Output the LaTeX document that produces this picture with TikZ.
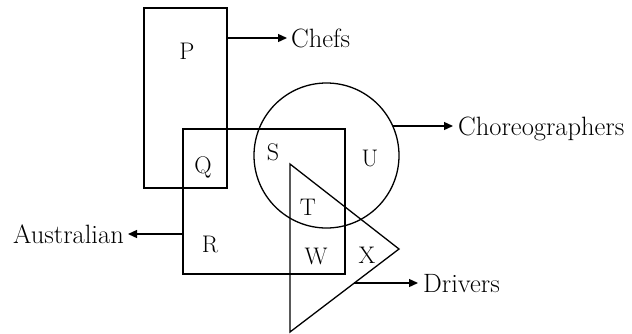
\documentclass[tikz,border=0pt]{standalone}
\usetikzlibrary{arrows.meta}
\begin{document}
\begin{tikzpicture}[x=1pt,y=-1pt,
  shapeline/.style={line width=1.3pt, black},
  arr/.style={line width=1.3pt, -{Triangle[length=9pt,width=8pt]}},
  lbl/.style={font=\fontsize{26.5}{30}\selectfont, inner sep=0pt, text depth=0pt},
  region/.style={font=\fontsize{24}{28}\selectfont, inner sep=0pt, text depth=0pt}]
\useasboundingbox (0,0) rectangle (632,333);
% sets
\draw[shapeline] (144,8) rectangle (227,188);
\draw[shapeline] (183,129) rectangle (345,274);
\draw[shapeline] (326.5,155.5) circle [radius=72.5];
\draw[shapeline] (290,164) -- (399,249) -- (290,332) -- cycle;
% region labels
\node[region] (P) at (187,51) {P};
\node[region] (Q) at (203,165) {Q};
\node[region] (R) at (210,244) {R};
\node[region] (S) at (273,152) {S};
\node[region] (U) at (370,158) {U};
\node[region] (T) at (308,207) {T};
\node[region] (W) at (316,256) {W};
\node[region] (X) at (367,255) {X};
% arrow start points
\coordinate (chefsStart) at (227,38);
\coordinate (choreoStart) at (392.7,126);
\coordinate (ausStart) at (183,234);
\coordinate (drivStart) at (354.3,283);
% outside labels
\node[lbl, anchor=west] (chefs) at (291,38) {Chefs};
\node[lbl, anchor=west] (choreo) at (458,126) {Choreographers};
\node[lbl, anchor=east] (aus) at (124,234) {Australian};
\node[lbl, anchor=west] (driv) at (423,283) {Drivers};
% connectors
\draw[arr] (chefsStart) -- ([xshift=-4pt]chefs.west);
\draw[arr] (choreoStart) -- ([xshift=-5pt]choreo.west);
\draw[arr] (ausStart) -- ([xshift=4pt]aus.east);
\draw[arr] (drivStart) -- ([xshift=-5pt]driv.west);
\end{tikzpicture}
\end{document}
